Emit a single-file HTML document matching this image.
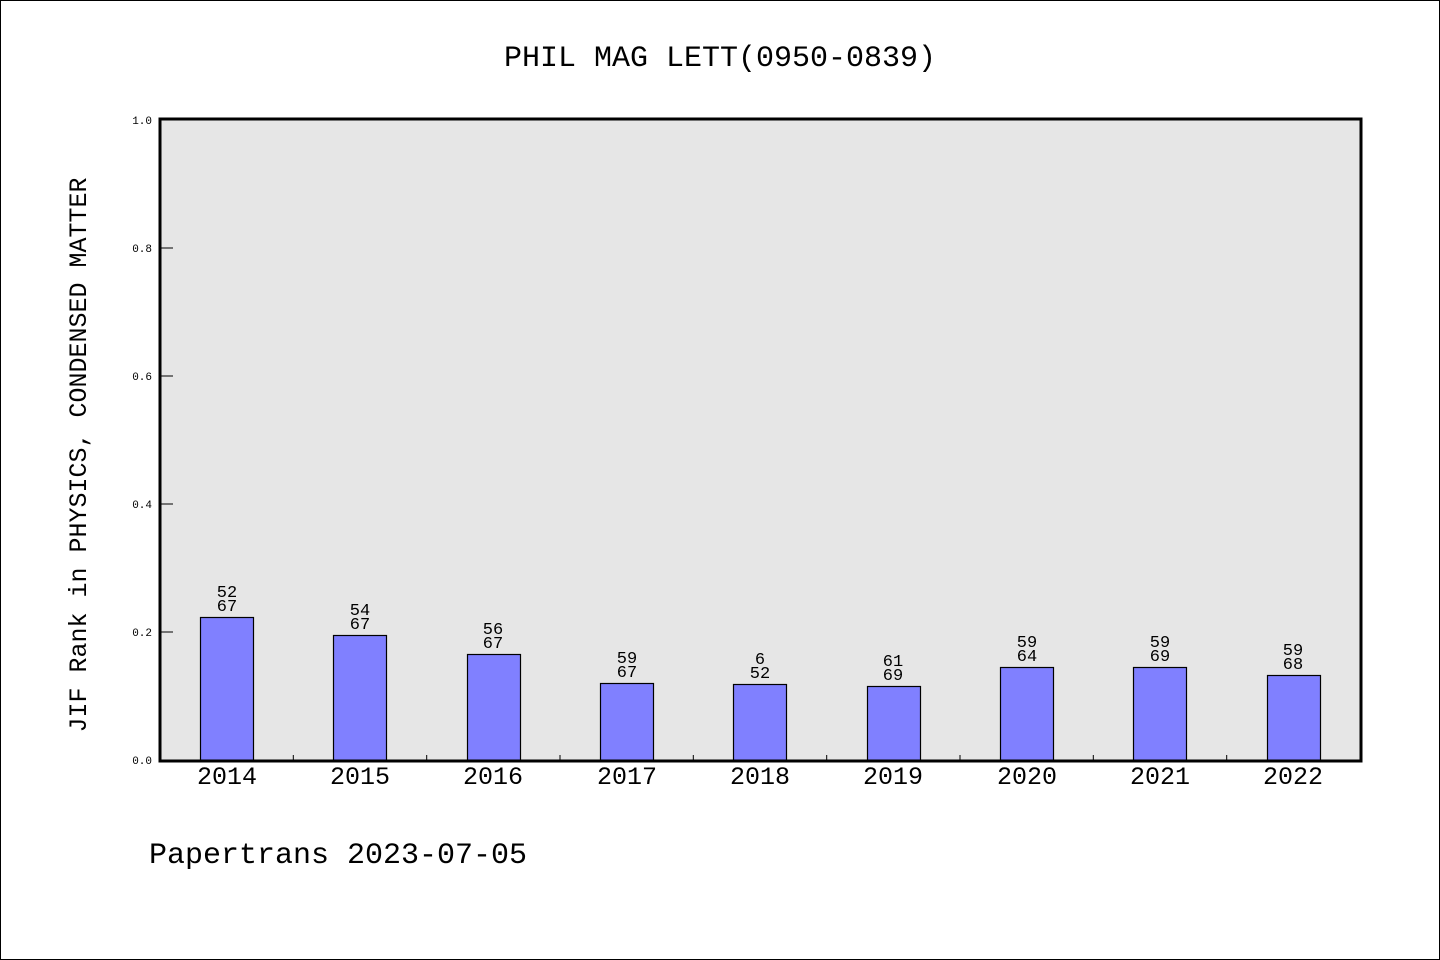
<!DOCTYPE html>
<html><head><style>
html,body{margin:0;padding:0;background:#fff}
svg{display:block}
text{font-family:"Liberation Mono","WenQuanYi Zen Hei Mono",monospace;fill:#000}
</style></head><body>
<svg width="1440" height="960" viewBox="0 0 1440 960" xmlns="http://www.w3.org/2000/svg">
<rect x="0.5" y="0.5" width="1439" height="959" fill="#fff" stroke="#000"/>
<text x="720" y="66" font-size="30" text-anchor="middle">PHIL MAG LETT(0950-0839)</text>
<rect x="160" y="120" width="1201" height="640" fill="#e6e6e6"/>
<g stroke="#000" stroke-width="1">
<line x1="160" y1="248" x2="173" y2="248"/>
<line x1="160" y1="376" x2="173" y2="376"/>
<line x1="160" y1="504" x2="173" y2="504"/>
<line x1="160" y1="632" x2="173" y2="632"/>
<line x1="293.3" y1="755" x2="293.3" y2="760"/>
<line x1="426.7" y1="755" x2="426.7" y2="760"/>
<line x1="560" y1="755" x2="560" y2="760"/>
<line x1="693.3" y1="755" x2="693.3" y2="760"/>
<line x1="826.7" y1="755" x2="826.7" y2="760"/>
<line x1="960" y1="755" x2="960" y2="760"/>
<line x1="1093.3" y1="755" x2="1093.3" y2="760"/>
<line x1="1226.7" y1="755" x2="1226.7" y2="760"/>
</g>
<g font-size="11" text-anchor="end">
<text x="152" y="124">1.0</text><text x="152" y="252">0.8</text><text x="152" y="380">0.6</text>
<text x="152" y="508">0.4</text><text x="152" y="636">0.2</text><text x="152" y="764">0.0</text>
</g>
<g fill="#8080ff" stroke="#000" stroke-width="1.2">
<rect x="200.5" y="617.5" width="53" height="143"/>
<rect x="333.5" y="635.5" width="53" height="125"/>
<rect x="467.5" y="654.5" width="53" height="106"/>
<rect x="600.5" y="683.5" width="53" height="77"/>
<rect x="733.5" y="684.5" width="53" height="76"/>
<rect x="867.5" y="686.5" width="53" height="74"/>
<rect x="1000.5" y="667.5" width="53" height="93"/>
<rect x="1133.5" y="667.5" width="53" height="93"/>
<rect x="1267.5" y="675.5" width="53" height="85"/>
</g>
<rect x="160" y="119" width="1201" height="642" fill="none" stroke="#000" stroke-width="3"/>
<g font-size="17" text-anchor="middle">
<text x="227" y="597">52</text><text x="227" y="611">67</text>
<text x="360" y="615">54</text><text x="360" y="629">67</text>
<text x="493" y="634">56</text><text x="493" y="648">67</text>
<text x="627" y="663">59</text><text x="627" y="677">67</text>
<text x="760" y="664">6</text><text x="760" y="678">52</text>
<text x="893" y="666">61</text><text x="893" y="680">69</text>
<text x="1027" y="647">59</text><text x="1027" y="661">64</text>
<text x="1160" y="647">59</text><text x="1160" y="661">69</text>
<text x="1293" y="655">59</text><text x="1293" y="669">68</text>
</g>
<g font-size="25" text-anchor="middle">
<text x="227" y="784">2014</text><text x="360" y="784">2015</text><text x="493" y="784">2016</text>
<text x="627" y="784">2017</text><text x="760" y="784">2018</text><text x="893" y="784">2019</text>
<text x="1027" y="784">2020</text><text x="1160" y="784">2021</text><text x="1293" y="784">2022</text>
</g>
<text transform="translate(86,455) rotate(-90)" font-size="25" text-anchor="middle">JIF Rank in PHYSICS, CONDENSED MATTER</text>
<text x="149" y="863" font-size="30">Papertrans 2023-07-05</text>
</svg>
</body></html>
